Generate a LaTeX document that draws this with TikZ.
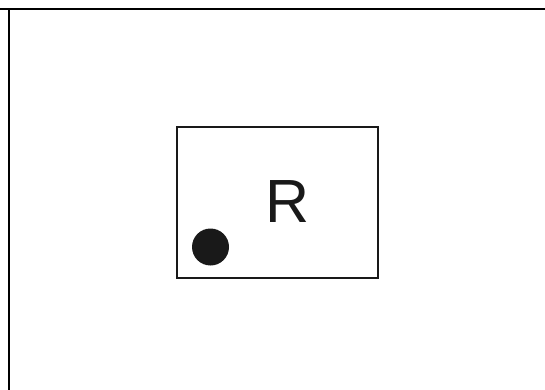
\documentclass[tikz,border=0pt]{standalone}
\usepackage{fontspec}
\setmainfont{Liberation Sans}
\tikzset{
  frameline/.style={line width=2pt, black},
  boxline/.style={draw=black!90, line width=2pt},
  dotmark/.style={circle, fill=black!90, inner sep=0pt, minimum size=37pt},
  labeltext/.style={inner sep=0pt, anchor=base, text=black!90, font=\fontsize{61}{61}\selectfont}
}
\begin{document}
\begin{tikzpicture}[x=1pt,y=-1pt]
\useasboundingbox (0,0) rectangle (545,390);
\coordinate (tl) at (0,9);
\coordinate (tr) at (545,9);
\coordinate (lt) at (9,9);
\coordinate (lb) at (9,390);
\draw[frameline] (tl) -- (tr);
\draw[frameline] (lt) -- (lb);
\node[boxline, minimum width=201pt, minimum height=151pt, inner sep=0pt] (box) at (277.5,202.5) {};
\node[labeltext] (r) at (287.5,222) {R};
\node[dotmark] (dot) at (210.5,247) {};
\end{tikzpicture}
\end{document}
